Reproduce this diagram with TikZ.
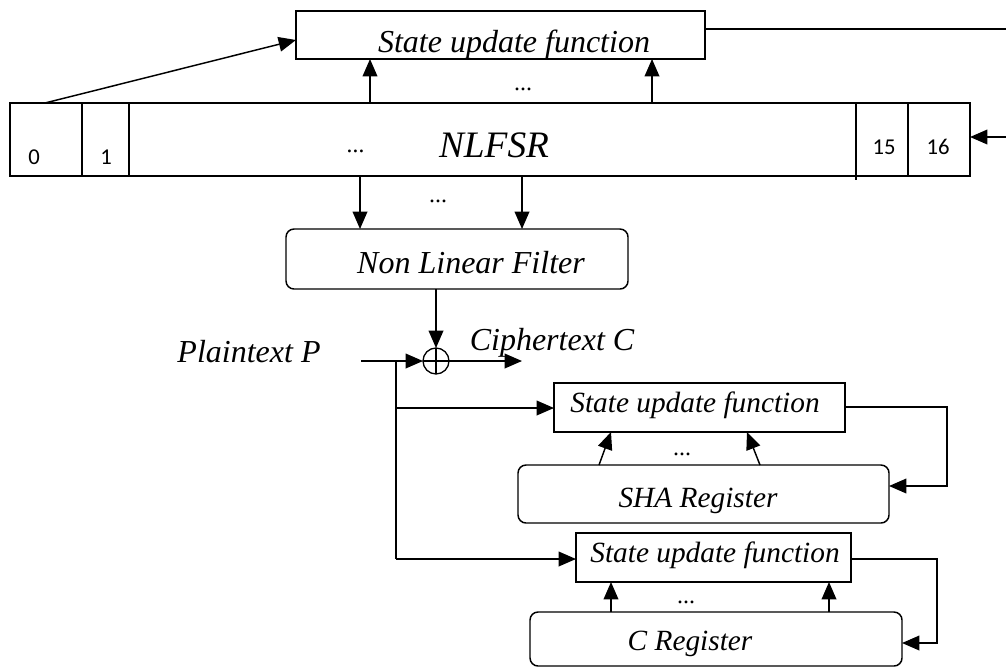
\documentclass[tikz,border=0pt]{standalone}
\usepackage{fontspec}
\setmainfont{Liberation Serif}
\newfontfamily\numfont{Carlito}
\usetikzlibrary{arrows.meta,calc}
\begin{document}
\begin{tikzpicture}[x=0.75pt,y=-0.75pt,
  line width=1.1pt,
  box/.style={draw,rectangle,inner sep=0pt,outer sep=0pt},
  rbox/.style={box,rounded corners=6pt},
  arr/.style={-{Triangle[length=13pt,width=11pt]}},
  lbl/.style={inner sep=0pt,anchor=base,font=\itshape\fontsize{22}{26}\selectfont},
  biglbl/.style={lbl,font=\itshape\fontsize{24}{28}\selectfont},
  dots/.style={inner sep=0pt,anchor=base,font=\fontsize{18}{20}\selectfont},
  num/.style={inner sep=0pt,anchor=base,font=\numfont\fontsize{17}{19}\selectfont}]
\useasboundingbox (0,0) rectangle (1006,668);

% boxes
\node[box,minimum width=306.75pt,minimum height=36pt] (tu) at (500.5,35) {};
\node[box,minimum width=720pt,minimum height=54.75pt] (reg) at (490,139.5) {};
\node[rbox,minimum width=256.5pt,minimum height=45pt] (nlf) at (457,259) {};
\node[draw,circle,inner sep=0pt,outer sep=0pt,minimum size=19.5pt,line width=1pt,
  path picture={\draw[line width=1pt] (path picture bounding box.north) -- (path picture bounding box.south)
  (path picture bounding box.west) -- (path picture bounding box.east);}] (xor) at (436,361) {};
\node[box,minimum width=218.25pt,minimum height=36.75pt] (b2) at (699.5,407.5) {};
\node[rbox,minimum width=278.25pt,minimum height=43.5pt] (sha) at (703.5,494) {};
\node[box,minimum width=206.25pt,minimum height=36.75pt] (b3) at (713.5,557.5) {};
\node[rbox,minimum width=279pt,minimum height=40.5pt] (creg) at (716,639) {};

% texts
\node[biglbl] (tut) at (514,52) {State update function};
\node[lbl,font=\itshape\fontsize{28}{32}\selectfont] (regt) at (494,157) {NLFSR};
\node[dots,font=\itshape\fontsize{18}{20}\selectfont] (regd) at (356,152) {...};
\node[dots] (d1) at (523,90) {...};
\node[dots] (d2) at (438,202) {...};
\node[biglbl] (nlft) at (471,273) {Non Linear Filter};
\node[biglbl] (pt) at (249,362) {Plaintext P};
\node[biglbl] (ct) at (552,350) {Ciphertext C};
\node[lbl] (b2t) at (695,412) {State update function};
\node[lbl] (shat) at (698,507) {SHA Register};
\node[dots] (d3) at (682,455) {...};
\node[lbl] (b3t) at (715,562) {State update function};
\node[lbl] (ct2) at (690,650) {C Register};
\node[dots] (d4) at (686,603) {...};
\node[num] (n0) at (34,164) {0};
\node[num] (n1) at (106,164) {1};
\node[num] (n15) at (884,154) {15};
\node[num] (n16) at (938,154) {16};

% register dividers
\coordinate (v1) at (82,0);
\coordinate (v2) at (129,0);
\coordinate (v3) at (856,0);
\coordinate (v4) at (908,0);
\draw (reg.north -| v1) -- (reg.south -| v1);
\draw (reg.north -| v2) -- (reg.south -| v2);
\draw (reg.north -| v3) -- ($(reg.south -| v3)+(0,4)$);
\draw (reg.north -| v4) -- (reg.south -| v4);

% top feedback
\coordinate (trc) at (1006,29);
\coordinate (rrc) at (1006,137);
\draw (tu.east |- trc) -- (trc);
\draw[arr] (rrc) -- (reg.east |- rrc);

% diagonal from cell 0
\coordinate (d0) at (45,103);
\coordinate (dt) at (296,40);
\draw[arr] (d0) -- (dt);

% up arrows reg -> tu
\coordinate (u1) at (370,0);
\coordinate (u2) at (652,0);
\draw[arr] (reg.north -| u1) -- (tu.south -| u1);
\draw[arr] (reg.north -| u2) -- (tu.south -| u2);

% down arrows reg -> nlf
\coordinate (w1) at (360,0);
\coordinate (w2) at (522,0);
\draw[arr] (reg.south -| w1) -- (nlf.north -| w1);
\draw[arr] (reg.south -| w2) -- (nlf.north -| w2);

% nlf -> xor
\draw[arr] (nlf.south -| xor) -- (xor.north);

% plaintext -> xor, xor -> out
\coordinate (pin) at (361,361);
\coordinate (cout) at (522,361);
\draw[arr] (pin) -- (xor.west);
\draw[arr] (xor.east) -- (cout);

% branch
\coordinate (j) at (396,361);
\coordinate (jb2) at (396,408);
\coordinate (jb3) at (396,559);
\draw (j) -- (jb3);
\draw[arr] (jb2) -- (b2.west |- jb2);
\draw[arr] (jb3) -- (b3.west |- jb3);

% sha -> b2
\coordinate (s1) at (599,0);
\coordinate (s2) at (611,0);
\coordinate (s3) at (760,0);
\coordinate (s4) at (747,0);
\draw[arr] (sha.north -| s1) -- (b2.south -| s2);
\draw[arr] (sha.north -| s3) -- (b2.south -| s4);

% b2 feedback -> sha
\coordinate (f2a) at (947,407);
\coordinate (f2b) at (947,486);
\draw[arr] (b2.east |- f2a) -- (f2a) -- (f2b) -- (sha.east |- f2b);

% creg -> b3
\coordinate (c1) at (611,0);
\coordinate (c2) at (829,0);
\draw[arr] (creg.north -| c1) -- (b3.south -| c1);
\draw[arr] (creg.north -| c2) -- (b3.south -| c2);

% b3 feedback -> creg
\coordinate (f3a) at (937,559);
\coordinate (f3b) at (937,643);
\draw[arr] (b3.east |- f3a) -- (f3a) -- (f3b) -- (creg.east |- f3b);
\end{tikzpicture}
\end{document}
